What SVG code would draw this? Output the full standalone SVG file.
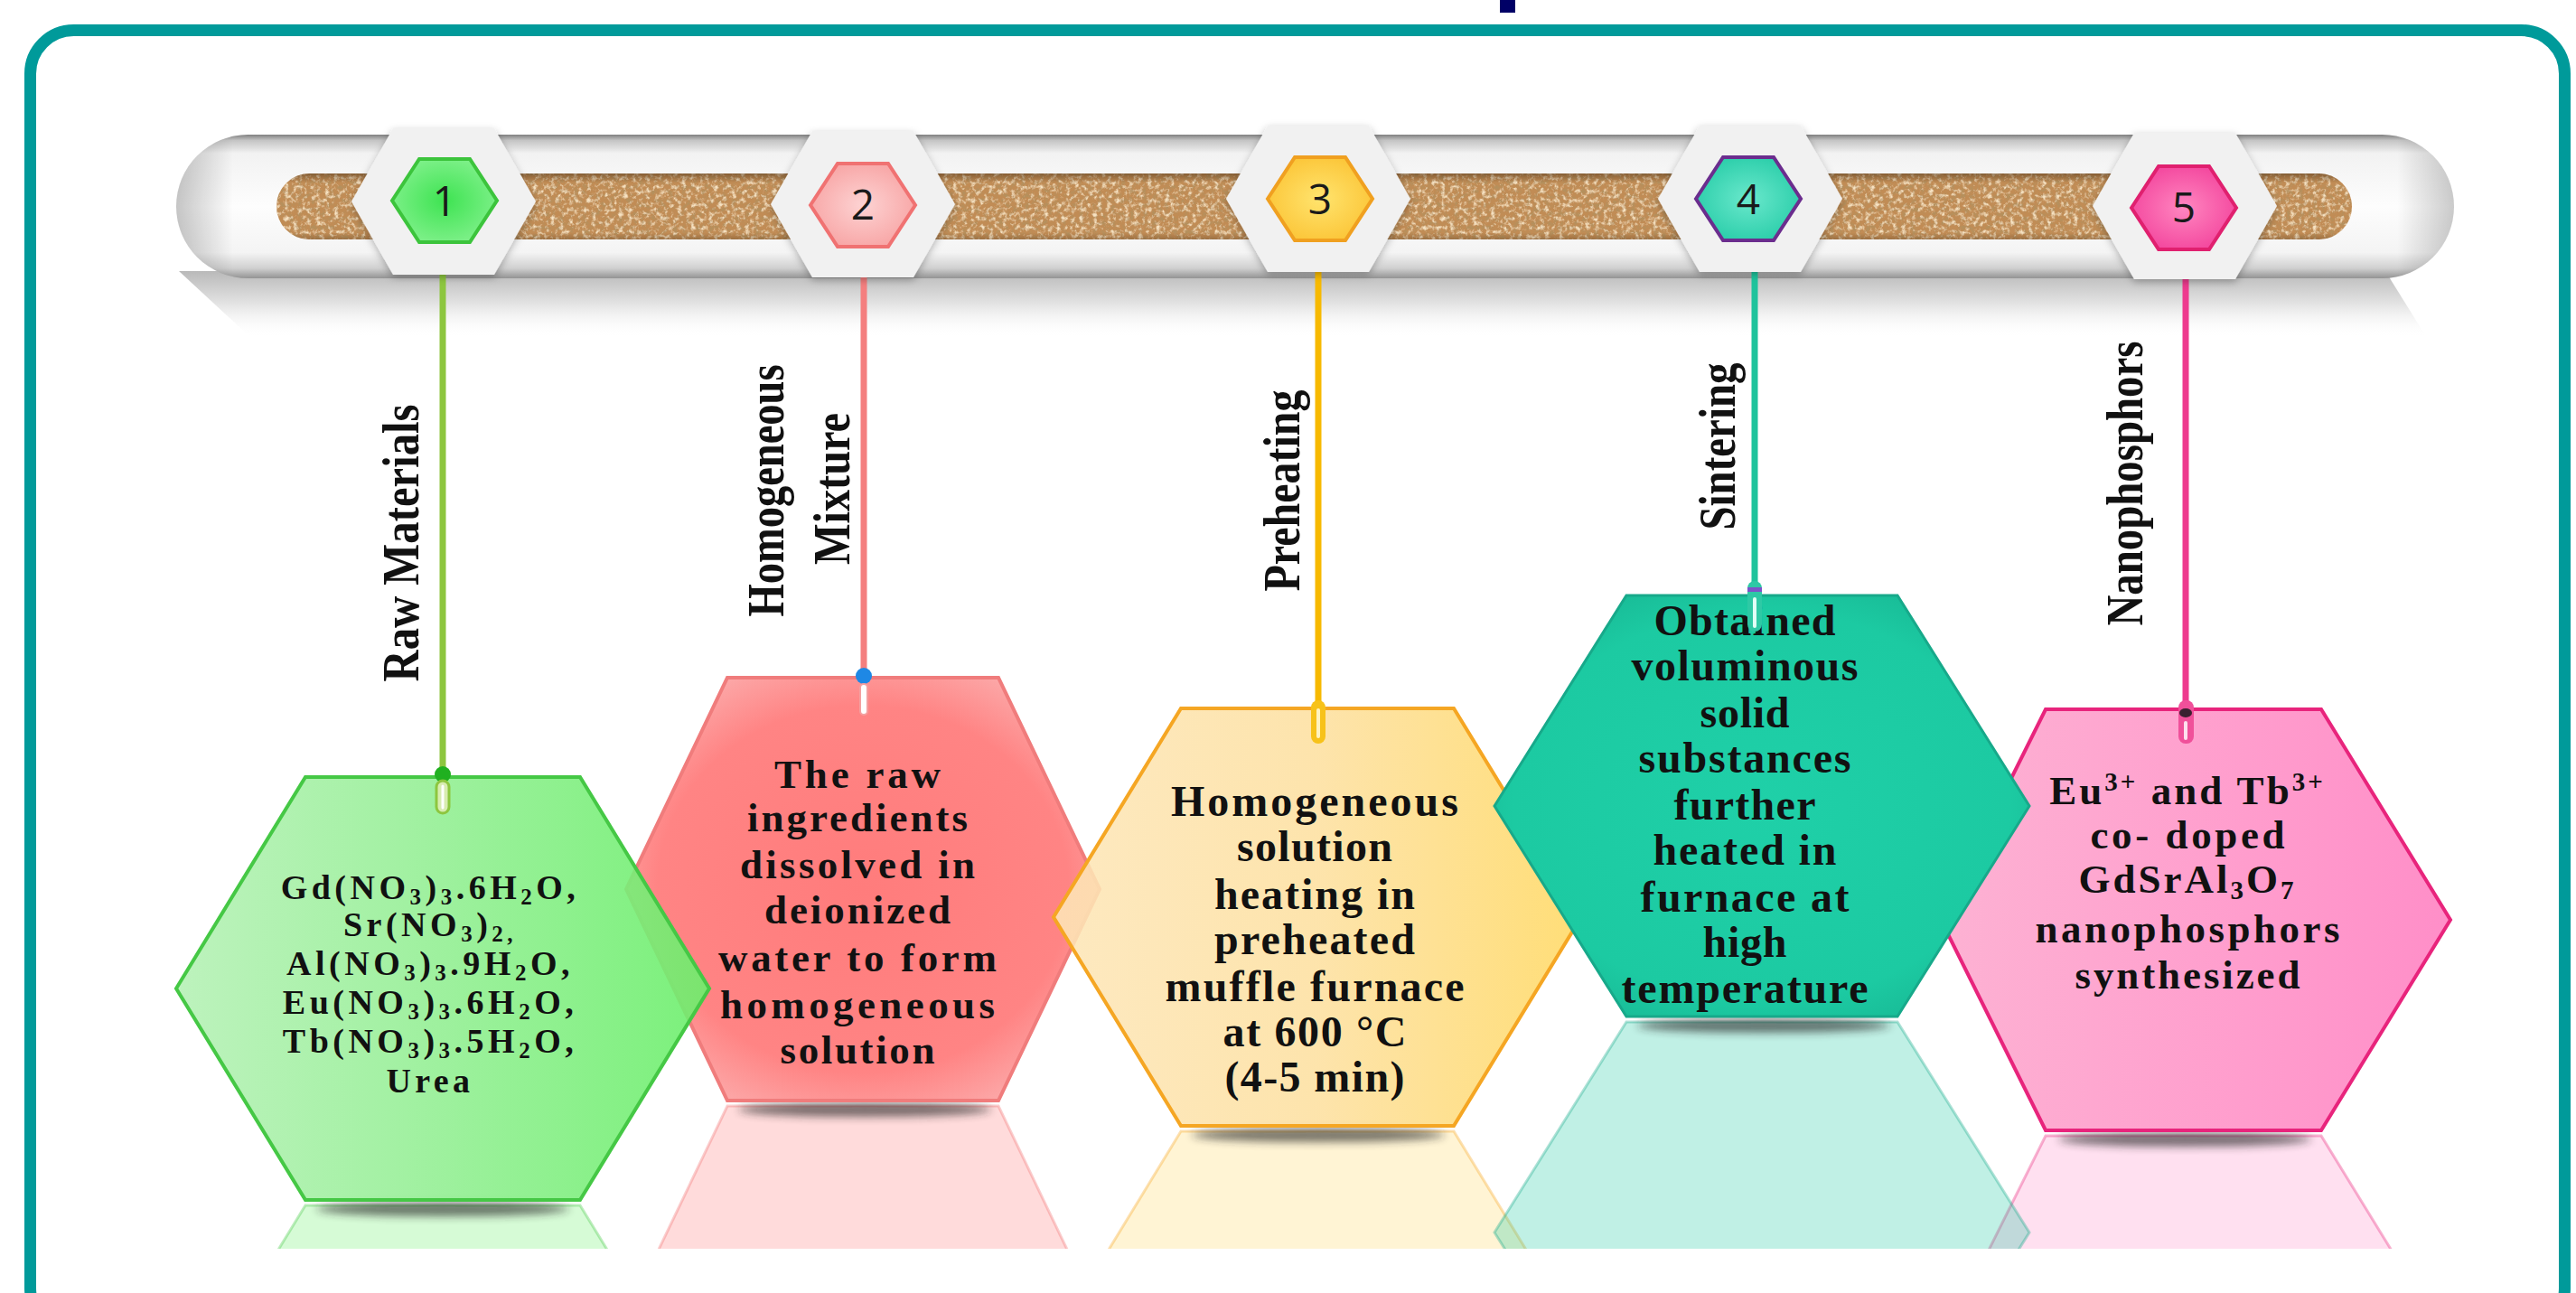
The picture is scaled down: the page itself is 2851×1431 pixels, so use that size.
<svg xmlns="http://www.w3.org/2000/svg" width="2851" height="1431" viewBox="0 0 2851 1431">
  <defs>
    <style>
      .num { font-family: "Open Sans", "Noto Sans", sans-serif; font-size: 46px; fill: #1a1a1a; text-anchor: middle; }
      .lbl { font-family: "Liberation Serif", "Times New Roman", serif; font-weight: bold; font-size: 57px; fill: #111; text-anchor: middle; }
      .txt { font-family: "Liberation Serif", "Times New Roman", serif; font-weight: bold; font-size: 48px; fill: #111; text-anchor: middle; }
      .txt2 { font-family: "Liberation Serif", "Times New Roman", serif; font-weight: bold; font-size: 45px; fill: #111; text-anchor: middle; }
      .txt1 { font-family: "Liberation Serif", "Times New Roman", serif; font-weight: bold; font-size: 38px; fill: #111; text-anchor: middle; letter-spacing: 4.5px; }
      .conn { fill: none; stroke-width: 7; stroke-linecap: butt; }
      .badge { fill: #f1f1f1; filter: url(#badgeShadow); }
      .refl { fill-opacity: 0.28; stroke-opacity: 0.35; stroke-width: 3; }
      .floorShadow { fill: #222; opacity: 0.6; filter: url(#soft); }
    </style>

    <!-- timeline tube shading -->
    <linearGradient id="tubeV" x1="0" y1="0" x2="0" y2="1">
      <stop offset="0" stop-color="#808080"/>
      <stop offset="0.04" stop-color="#c4c4c4"/>
      <stop offset="0.13" stop-color="#f2f2f2"/>
      <stop offset="0.5" stop-color="#fdfdfd"/>
      <stop offset="0.82" stop-color="#f4f4f4"/>
      <stop offset="0.93" stop-color="#d0d0d0"/>
      <stop offset="1" stop-color="#939393"/>
    </linearGradient>
    <linearGradient id="tubeH" x1="0" y1="0" x2="1" y2="0">
      <stop offset="0" stop-color="#000" stop-opacity="0.22"/>
      <stop offset="0.025" stop-color="#000" stop-opacity="0"/>
      <stop offset="0.975" stop-color="#000" stop-opacity="0"/>
      <stop offset="1" stop-color="#000" stop-opacity="0.2"/>
    </linearGradient>
    <linearGradient id="tubeShadow" x1="0" y1="0" x2="0" y2="1">
      <stop offset="0" stop-color="#b9b9b9"/>
      <stop offset="0.5" stop-color="#e4e4e4"/>
      <stop offset="1" stop-color="#ffffff" stop-opacity="0"/>
    </linearGradient>
    <linearGradient id="corkShade" x1="0" y1="0" x2="0" y2="1">
      <stop offset="0" stop-color="#4a2e12" stop-opacity="0.5"/>
      <stop offset="0.14" stop-color="#4a2e12" stop-opacity="0"/>
      <stop offset="0.9" stop-color="#4a2e12" stop-opacity="0"/>
      <stop offset="1" stop-color="#4a2e12" stop-opacity="0.3"/>
    </linearGradient>
    <filter id="corkTex" x="0" y="0" width="1" height="1">
      <feTurbulence type="fractalNoise" baseFrequency="0.2" numOctaves="4" seed="11" result="n"/>
      <feColorMatrix in="n" type="matrix" values="0 0 0 0 0.46  0 0 0 0 0.28  0 0 0 0 0.11  -3.2 0 0 0 1.75" result="dark"/>
      <feColorMatrix in="n" type="matrix" values="0 0 0 0 0.92  0 0 0 0 0.76  0 0 0 0 0.54  0 3.0 0 0 -1.45" result="light"/>
      <feMerge result="m"><feMergeNode in="dark"/><feMergeNode in="light"/></feMerge>
      <feComposite in="m" in2="SourceAlpha" operator="in"/>
    </filter>
    <filter id="badgeShadow" x="-20%" y="-20%" width="140%" height="150%">
      <feDropShadow dx="0" dy="3" stdDeviation="4" flood-color="#000" flood-opacity="0.28"/>
    </filter>
    <filter id="soft" x="-20%" y="-100%" width="140%" height="300%">
      <feGaussianBlur stdDeviation="5"/>
    </filter>

    <!-- number chips -->
    <radialGradient id="chip1" cx="0.5" cy="0.5" r="0.6">
      <stop offset="0" stop-color="#3ee352"/><stop offset="1" stop-color="#86f290"/>
    </radialGradient>
    <radialGradient id="chip2" cx="0.5" cy="0.5" r="0.6">
      <stop offset="0" stop-color="#fdd3d3"/><stop offset="1" stop-color="#f7a0a0"/>
    </radialGradient>
    <radialGradient id="chip3" cx="0.5" cy="0.5" r="0.6">
      <stop offset="0" stop-color="#ffe46e"/><stop offset="1" stop-color="#fbc232"/>
    </radialGradient>
    <radialGradient id="chip4" cx="0.5" cy="0.5" r="0.6">
      <stop offset="0" stop-color="#6ae8cc"/><stop offset="1" stop-color="#24cba6"/>
    </radialGradient>
    <radialGradient id="chip5" cx="0.5" cy="0.5" r="0.6">
      <stop offset="0" stop-color="#ff86c0"/><stop offset="1" stop-color="#f2409a"/>
    </radialGradient>

    <!-- card fills -->
    <linearGradient id="card1" x1="0" y1="0" x2="1" y2="0">
      <stop offset="0" stop-color="#b6f1b6"/><stop offset="0.5" stop-color="#93ef93"/><stop offset="1" stop-color="#6cef6c"/>
    </linearGradient>
    <radialGradient id="card2" cx="0.5" cy="0.5" r="0.62">
      <stop offset="0" stop-color="#ff7c7c"/><stop offset="0.7" stop-color="#ff8484"/><stop offset="1" stop-color="#fbb3b3"/>
    </radialGradient>
    <linearGradient id="card3" x1="0" y1="0" x2="1" y2="0">
      <stop offset="0" stop-color="#fde6b8"/><stop offset="0.5" stop-color="#fde0a0"/><stop offset="1" stop-color="#ffd964"/>
    </linearGradient>
    <radialGradient id="card4" cx="0.5" cy="0.5" r="0.62">
      <stop offset="0" stop-color="#1fd0a8"/><stop offset="0.75" stop-color="#1ccaa2"/><stop offset="1" stop-color="#17b592"/>
    </radialGradient>
    <linearGradient id="card5" x1="0" y1="0" x2="1" y2="0">
      <stop offset="0" stop-color="#fdb2d3"/><stop offset="0.6" stop-color="#ff9dcd"/><stop offset="1" stop-color="#ff8ec8"/>
    </linearGradient>

    <polygon id="badgeHex" points="-102,0 -56,-81 56,-81 102,0 56,81 -56,81"/>
    <polygon id="chipHex" points="-58,0 -28,-46 28,-46 58,0 28,46 -28,46"/>

    <clipPath id="floorClip"><rect x="0" y="0" width="2851" height="1382"/></clipPath>
  </defs>

  <rect x="0" y="0" width="2851" height="1431" fill="#ffffff"/>

  <!-- page frame -->
  <g id="frame">
    <rect x="33.5" y="33.5" width="2805" height="1440" rx="48" fill="none" stroke="#009a9a" stroke-width="13"/>
    <rect x="1660" y="0" width="17" height="14" fill="#000066"/>
  </g>

  <!-- timeline tube with cork strip -->
  <g id="timeline">
    <polygon points="198,300 2640,300 2686,374 278,374" fill="url(#tubeShadow)"/>
    <rect x="195" y="149" width="2521" height="159" rx="79.5" fill="url(#tubeV)"/>
    <rect x="195" y="149" width="2521" height="159" rx="79.5" fill="url(#tubeH)"/>
    <rect x="306" y="192" width="2297" height="73" rx="36.5" fill="#c18c55"/>
    <rect x="306" y="192" width="2297" height="73" rx="36.5" fill="#000" filter="url(#corkTex)"/>
    <rect x="306" y="192" width="2297" height="73" rx="36.5" fill="url(#corkShade)"/>
  </g>

  <!-- connectors from the step badges down to the cards -->
  <g id="connectors">
    <line class="conn" x1="490" y1="300" x2="490" y2="852" stroke="#8dc63f"/>
    <line class="conn" x1="956" y1="300" x2="956" y2="742" stroke="#f47f7f"/>
    <line class="conn" x1="1459" y1="300" x2="1459" y2="780" stroke="#f7b900"/>
    <line class="conn" x1="1942" y1="300" x2="1942" y2="646" stroke="#1fc39c"/>
    <line class="conn" x1="2419" y1="305" x2="2419" y2="778" stroke="#ee3a8e"/>
  </g>

  <!-- step 2: homogeneous mixture -->
  <g id="step2">
    <use href="#badgeHex" class="badge" transform="translate(955,226)"/>
    <use href="#chipHex" transform="translate(955,227)" fill="url(#chip2)" stroke="#f07272" stroke-width="4"/>
    <text class="num" x="955" y="243">2</text>
    <text class="lbl" transform="translate(867,543) rotate(-90)" textLength="279" lengthAdjust="spacingAndGlyphs">Homogeneous</text>
    <text class="lbl" transform="translate(940,541) rotate(-90)" textLength="168" lengthAdjust="spacingAndGlyphs">Mixture</text>
    <g clip-path="url(#floorClip)">
      <polygon class="refl" points="693,984 805,750 1105,750 1217,984 1105,1218 805,1218" transform="matrix(1 0 0 -1 0 2442)" fill="#ff7c7c" stroke="#f07070"/>
    </g>
    <ellipse class="floorShadow" cx="957" cy="1228" rx="140" ry="8"/>
    <polygon points="693,984 805,750 1105,750 1217,984 1105,1218 805,1218" fill="url(#card2)" stroke="#f07c7c" stroke-width="4"/>
    <text class="txt2" x="949" y="872" textLength="184">The raw</text>
    <text class="txt2" x="949" y="920" textLength="244">ingredients</text>
    <text class="txt2" x="949" y="972" textLength="260">dissolved in</text>
    <text class="txt2" x="949" y="1022" textLength="206">deionized</text>
    <text class="txt2" x="949" y="1075" textLength="308">water to form</text>
    <text class="txt2" x="949" y="1127" textLength="304">homogeneous</text>
    <text class="txt2" x="949" y="1177" textLength="171">solution</text>
    <circle cx="956" cy="748" r="9" fill="#1e88e5"/>
    <rect x="952" y="757" width="8" height="34" rx="4" fill="#ffffff" stroke="#f4a0a0" stroke-width="2"/>
  </g>

  <!-- step 5: nanophosphors -->
  <g id="step5">
    <use href="#badgeHex" class="badge" transform="translate(2418,228)"/>
    <use href="#chipHex" transform="translate(2417,230)" fill="url(#chip5)" stroke="#e0206f" stroke-width="4"/>
    <text class="num" x="2417" y="246">5</text>
    <text class="lbl" transform="translate(2371,535) rotate(-90)" textLength="315" lengthAdjust="spacingAndGlyphs">Nanophosphors</text>
    <g clip-path="url(#floorClip)">
      <polygon class="refl" points="2148,1018 2264,785 2569,785 2712,1018 2569,1251 2264,1251" transform="matrix(1 0 0 -1 0 2508)" fill="#ff8ec8" stroke="#e8247c"/>
    </g>
    <ellipse class="floorShadow" cx="2418" cy="1261" rx="140" ry="8"/>
    <polygon points="2148,1018 2264,785 2569,785 2712,1018 2569,1251 2264,1251" fill="url(#card5)" stroke="#e8247c" stroke-width="4"/>
    <text class="txt2" x="2421" y="890" letter-spacing="3">Eu<tspan font-size="29" dy="-15">3+</tspan><tspan dy="15"> and Tb</tspan><tspan font-size="29" dy="-15">3+</tspan></text>
    <text class="txt2" x="2421" y="939" textLength="215">co- doped</text>
    <text class="txt2" x="2421" y="988" letter-spacing="3">GdSrAl<tspan font-size="29" dy="7">3</tspan><tspan dy="-7">O</tspan><tspan font-size="29" dy="7">7</tspan></text>
    <text class="txt2" x="2421" y="1043" textLength="337">nanophosphors</text>
    <text class="txt2" x="2421" y="1094" textLength="249">synthesized</text>
    <rect x="2411" y="775" width="17" height="48" rx="8" fill="#f0509a"/>
    <ellipse cx="2419" cy="789" rx="7" ry="5" fill="#3a2030"/>
    <line x1="2419" y1="800" x2="2419" y2="817" stroke="#fde0ee" stroke-width="4" stroke-linecap="round"/>
  </g>

  <!-- step 1: raw materials -->
  <g id="step1">
    <use href="#badgeHex" class="badge" transform="translate(491,223)"/>
    <use href="#chipHex" transform="translate(492,222)" fill="url(#chip1)" stroke="#3cc43c" stroke-width="4"/>
    <text class="num" x="492" y="239">1</text>
    <text class="lbl" transform="translate(463,601) rotate(-90)" textLength="307" lengthAdjust="spacingAndGlyphs">Raw Materials</text>
    <g clip-path="url(#floorClip)">
      <polygon class="refl" points="195,1094 338,860 642,860 785,1094 642,1328 338,1328" transform="matrix(1 0 0 -1 0 2662)" fill="#6cef6c" stroke="#45c845"/>
    </g>
    <ellipse class="floorShadow" cx="490" cy="1338" rx="140" ry="8"/>
    <polygon points="195,1094 338,860 642,860 785,1094 642,1328 338,1328" fill="url(#card1)" fill-opacity="0.9" stroke="#45c845" stroke-width="4"/>
    <text class="txt1" x="476" y="995">Gd(NO<tspan font-size="25" dy="6">3</tspan><tspan dy="-6">)</tspan><tspan font-size="25" dy="6">3</tspan><tspan dy="-6">.6H</tspan><tspan font-size="25" dy="6">2</tspan><tspan dy="-6">O,</tspan></text>
    <text class="txt1" x="476" y="1036">Sr(NO<tspan font-size="25" dy="6">3</tspan><tspan dy="-6">)</tspan><tspan font-size="25" dy="6">2,</tspan></text>
    <text class="txt1" x="476" y="1079">Al(NO<tspan font-size="25" dy="6">3</tspan><tspan dy="-6">)</tspan><tspan font-size="25" dy="6">3</tspan><tspan dy="-6">.9H</tspan><tspan font-size="25" dy="6">2</tspan><tspan dy="-6">O,</tspan></text>
    <text class="txt1" x="476" y="1122">Eu(NO<tspan font-size="25" dy="6">3</tspan><tspan dy="-6">)</tspan><tspan font-size="25" dy="6">3</tspan><tspan dy="-6">.6H</tspan><tspan font-size="25" dy="6">2</tspan><tspan dy="-6">O,</tspan></text>
    <text class="txt1" x="476" y="1165">Tb(NO<tspan font-size="25" dy="6">3</tspan><tspan dy="-6">)</tspan><tspan font-size="25" dy="6">3</tspan><tspan dy="-6">.5H</tspan><tspan font-size="25" dy="6">2</tspan><tspan dy="-6">O,</tspan></text>
    <text class="txt1" x="476" y="1209" textLength="97" letter-spacing="0">Urea</text>
    <circle cx="490" cy="857" r="9" fill="#20b020"/>
    <rect x="483" y="864" width="14" height="36" rx="7" fill="#d8ecb0" stroke="#8dc63f" stroke-width="3"/>
    <line x1="490" y1="870" x2="490" y2="894" stroke="#ffffff" stroke-width="3" stroke-linecap="round"/>
  </g>

  <!-- step 3: preheating -->
  <g id="step3">
    <use href="#badgeHex" class="badge" transform="translate(1459,220)"/>
    <use href="#chipHex" transform="translate(1461,220)" fill="url(#chip3)" stroke="#f0a020" stroke-width="4"/>
    <text class="num" x="1461" y="237">3</text>
    <text class="lbl" transform="translate(1438,543) rotate(-90)" textLength="223" lengthAdjust="spacingAndGlyphs">Preheating</text>
    <g clip-path="url(#floorClip)">
      <polygon class="refl" points="1166,1015 1307,784 1609,784 1750,1015 1609,1246 1307,1246" transform="matrix(1 0 0 -1 0 2498)" fill="#ffd964" stroke="#f5a623"/>
    </g>
    <ellipse class="floorShadow" cx="1459" cy="1256" rx="140" ry="8"/>
    <polygon points="1166,1015 1307,784 1609,784 1750,1015 1609,1246 1307,1246" fill="url(#card3)" fill-opacity="0.88" stroke="#f5a623" stroke-width="4"/>
    <text class="txt" x="1455" y="903" textLength="318">Homogeneous</text>
    <text class="txt" x="1455" y="953" textLength="172">solution</text>
    <text class="txt" x="1455" y="1006" textLength="222">heating in</text>
    <text class="txt" x="1455" y="1056" textLength="222">preheated</text>
    <text class="txt" x="1455" y="1108" textLength="331">muffle furnace</text>
    <text class="txt" x="1455" y="1158" textLength="203">at 600 °C</text>
    <text class="txt" x="1455" y="1208" textLength="199">(4-5 min)</text>
    <rect x="1451" y="775" width="16" height="48" rx="8" fill="#f7c21a"/>
    <line x1="1459" y1="786" x2="1459" y2="815" stroke="#fff3c0" stroke-width="4" stroke-linecap="round"/>
  </g>

  <!-- step 4: sintering -->
  <g id="step4">
    <use href="#badgeHex" class="badge" transform="translate(1937,220)"/>
    <use href="#chipHex" transform="translate(1935,220)" fill="url(#chip4)" stroke="#6b2d8e" stroke-width="4"/>
    <text class="num" x="1935" y="237">4</text>
    <text class="lbl" transform="translate(1920,494) rotate(-90)" textLength="185" lengthAdjust="spacingAndGlyphs">Sintering</text>
    <g clip-path="url(#floorClip)">
      <polygon class="refl" points="1654,892 1800,659 2100,659 2246,892 2100,1125 1800,1125" transform="matrix(1 0 0 -1 0 2256)" fill="#1ccaa2" stroke="#17a98a"/>
    </g>
    <ellipse class="floorShadow" cx="1952" cy="1135" rx="140" ry="8"/>
    <polygon points="1654,892 1800,659 2100,659 2246,892 2100,1125 1800,1125" fill="url(#card4)" stroke="#17a98a" stroke-width="3"/>
    <text class="txt" x="1931" y="703" textLength="201">Obtained</text>
    <text class="txt" x="1931" y="753" textLength="251">voluminous</text>
    <text class="txt" x="1931" y="805" textLength="99">solid</text>
    <text class="txt" x="1931" y="855" textLength="235">substances</text>
    <text class="txt" x="1931" y="907" textLength="157">further</text>
    <text class="txt" x="1931" y="957" textLength="203">heated in</text>
    <text class="txt" x="1931" y="1009" textLength="231">furnace at</text>
    <text class="txt" x="1931" y="1059" textLength="93">high</text>
    <text class="txt" x="1931" y="1110" textLength="273">temperature</text>
    <rect x="1934" y="643" width="16" height="56" rx="8" fill="#2ec9a5"/>
    <rect x="1934" y="650" width="16" height="5" fill="#7b55c8"/>
    <line x1="1942" y1="663" x2="1942" y2="693" stroke="#e0fff6" stroke-width="4" stroke-linecap="round"/>
  </g>
</svg>
